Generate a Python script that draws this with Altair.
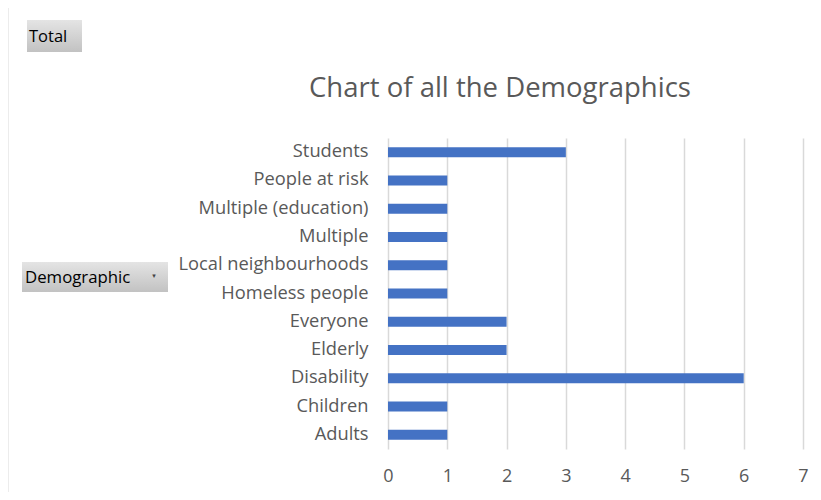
import altair as alt
import pandas as pd

categories = ["Students", "People at risk", "Multiple (education)", "Multiple",
              "Local neighbourhoods", "Homeless people", "Everyone", "Elderly",
              "Disability", "Children", "Adults"]
values = [3, 1, 1, 1, 1, 1, 2, 2, 6, 1, 1]
x_ticks = [0, 1, 2, 3, 4, 5, 6, 7]

df = pd.DataFrame({"Demographic": categories, "Total": values})
one = pd.DataFrame({"k": [0]})

FONT = "Open Sans"
GREY = "#595959"
W, H = 415, 311

bars = alt.Chart(df).mark_bar(color="#4472C4", size=10).encode(
    x=alt.X("Total:Q", scale=alt.Scale(domain=[0, 7], nice=False),
            axis=alt.Axis(values=x_ticks, title=None, grid=True, gridColor="#d9d9d9",
                          gridWidth=1.5, domain=False, ticks=False, labelPadding=18,
                          labelFlush=False, labelFontSize=18, labelColor=GREY, labelFont=FONT)),
    y=alt.Y("Demographic:N", sort=categories,
            axis=alt.Axis(title=None, domain=False, ticks=False, grid=False, labelPadding=20,
                          labelLimit=400, labelFontSize=18.3, labelColor=GREY, labelFont=FONT)),
)

grad = alt.Gradient(gradient="linear", x1=0, x2=0, y1=0, y2=1,
                    stops=[alt.GradientStop(offset=0, color="#e4e4e4"),
                           alt.GradientStop(offset=1, color="#c2c2c2")])

frame = alt.Chart(one).mark_rect(fill=None, stroke="#d9d9d9", strokeWidth=1).encode(
    x=alt.value(-380), x2=alt.value(W + 40), y=alt.value(-132), y2=alt.value(H + 60))

btn_total = alt.Chart(one).mark_rect(fill=grad).encode(
    x=alt.value(-361), x2=alt.value(-306), y=alt.value(-118), y2=alt.value(-86))
txt_total = alt.Chart(one).mark_text(text="Total", font=FONT, fontSize=16.5, color="black",
                                     align="left", baseline="alphabetic").encode(
    x=alt.value(-359), y=alt.value(-96))

btn_demo = alt.Chart(one).mark_rect(fill=grad).encode(
    x=alt.value(-366), x2=alt.value(-220), y=alt.value(124), y2=alt.value(154))
txt_demo = alt.Chart(one).mark_text(text="Demographic", font=FONT, fontSize=16.8, color="black",
                                    align="left", baseline="alphabetic").encode(
    x=alt.value(-363), y=alt.value(145))
txt_arrow = alt.Chart(one).mark_text(text="▾", font="DejaVu Sans", fontSize=7, color="#444444",
                                     align="center", baseline="middle").encode(
    x=alt.value(-234), y=alt.value(138))

title = alt.Chart(one).mark_text(text="Chart of all the Demographics", font=FONT, fontSize=27.5,
                                 color=GREY, align="center", baseline="alphabetic").encode(
    x=alt.value(112), y=alt.value(-41))

chart = alt.layer(frame, bars, btn_total, txt_total, btn_demo, txt_demo, txt_arrow, title).properties(
    width=W, height=H,
    autosize=alt.AutoSizeParams(type="none"),
    padding={"left": 380, "top": 130, "right": 10, "bottom": 43},
).configure(background="white").configure_view(strokeWidth=0, stroke="transparent")

chart.save("out.html", embed_options={"renderer": "svg", "actions": False})
